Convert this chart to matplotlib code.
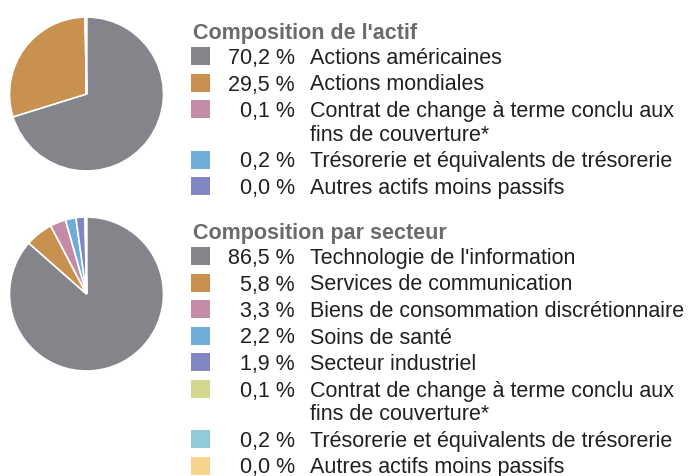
import matplotlib
matplotlib.use("Agg")
import matplotlib.pyplot as plt

plt.rcParams['font.family'] = ['Liberation Sans', 'DejaVu Sans']

# données
actif_labels = ["Actions américaines", "Actions mondiales",
                "Contrat de change à terme conclu aux\nfins de couverture*",
                "Trésorerie et équivalents de trésorerie",
                "Autres actifs moins passifs"]
actif_values = [70.2, 29.5, 0.1, 0.2, 0.0]
actif_colors = ["#84858a", "#c8914f", "#c38ca6", "#6dadd8", "#7f86c2"]

secteur_labels = ["Technologie de l'information", "Services de communication",
                  "Biens de consommation discrétionnaire", "Soins de santé",
                  "Secteur industriel",
                  "Contrat de change à terme conclu aux\nfins de couverture*",
                  "Trésorerie et équivalents de trésorerie",
                  "Autres actifs moins passifs"]
secteur_values = [86.5, 5.8, 3.3, 2.2, 1.9, 0.1, 0.2, 0.0]
secteur_colors = ["#84858a", "#c8914f", "#c38ca6", "#6dadd8", "#7f86c2",
                  "#d4d88e", "#92cad8", "#f7d38c"]

W, H = 694, 476
fig = plt.figure(figsize=(W / 100, H / 100), dpi=100)

# calque texte en pixels
lay = fig.add_axes([0, 0, 1, 1])
lay.set_xlim(0, W)
lay.set_ylim(H, 0)
lay.axis('off')


def pie_at(cx, cy, r, values, colors):
    ax = fig.add_axes([(cx - r) / W, (H - cy - r) / H, 2 * r / W, 2 * r / H])
    ax.pie(values, colors=colors, startangle=90, counterclock=False,
           wedgeprops=dict(edgecolor='white', linewidth=1.2))
    ax.set_xlim(-1.0, 1.0)
    ax.set_ylim(-1.0, 1.0)
    ax.set_aspect('equal')
    ax.axis('off')


def legend_at(y_title, y0, title, labels, values, colors):
    fs = 15.5
    lay.text(193, y_title, title, fontsize=fs, fontweight='bold',
             color='#6b6b6b', va='center_baseline', ha='left')
    y = y0
    for lab, v, c in zip(labels, values, colors):
        lay.add_patch(plt.Rectangle((191, y - 9), 19, 18, color=c, lw=0))
        txt = f"{v:.1f}".replace('.', ',') + " %"
        lay.text(295, y, txt, fontsize=fs, color='#231f20',
                 ha='right', va='center_baseline')
        lines = lab.split('\n')
        for k, line in enumerate(lines):
            lay.text(310, y + k * 24, line, fontsize=fs, color='#231f20',
                     ha='left', va='center_baseline')
        y += 26.5 + 24 * (len(lines) - 1)


pie_at(86.5, 94, 77, actif_values, actif_colors)
pie_at(86.5, 294, 77, secteur_values, secteur_colors)

legend_at(31, 56, "Composition de l'actif", actif_labels, actif_values, actif_colors)
legend_at(231, 256, "Composition par secteur", secteur_labels, secteur_values, secteur_colors)

fig.savefig("out.png", dpi=100)
